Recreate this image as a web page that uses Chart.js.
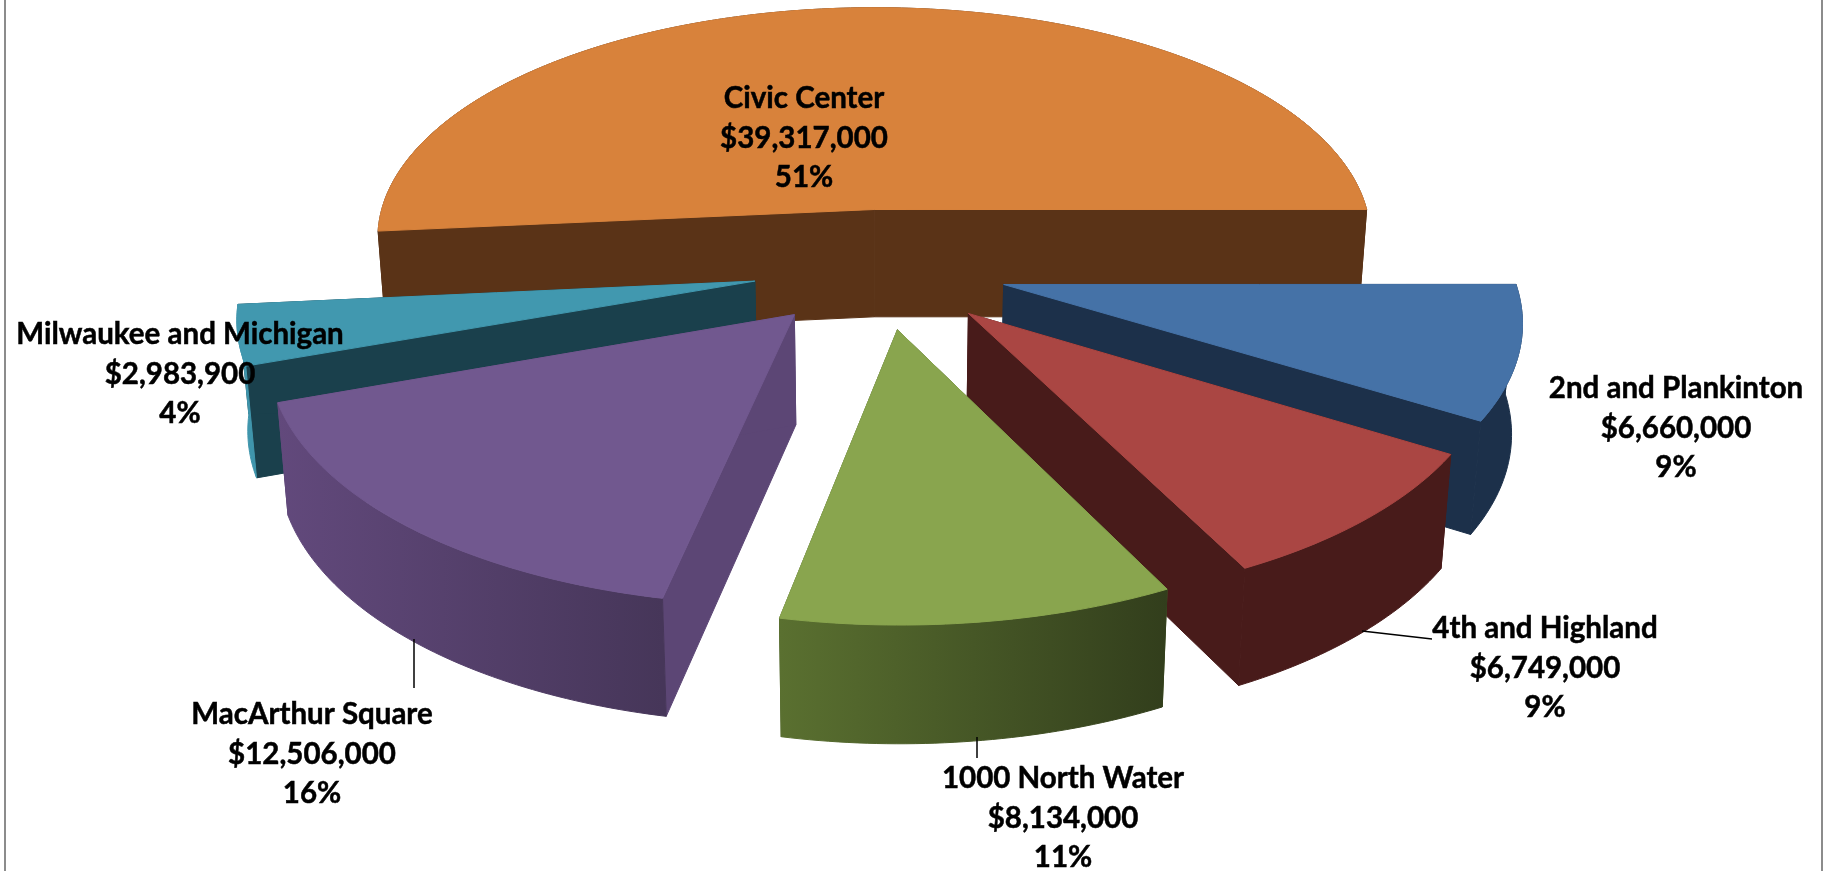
<!DOCTYPE html>
<html>
<head>
<meta charset="utf-8">
<title>Project values</title>
<script src="https://cdn.jsdelivr.net/npm/chart.js@4/dist/chart.umd.min.js"></script>
<style>
    html, body { margin: 0; padding: 0; background: #fff; }
    #wrap { position: relative; width: 1828px; height: 871px; overflow: hidden; }
</style>
</head>
<body>
<div id="wrap"><canvas id="pie" width="1828" height="871"></canvas></div>
<script>
const categories = ["Civic Center", "2nd and Plankinton", "4th and Highland", "1000 North Water", "MacArthur Square", "Milwaukee and Michigan"];
const amounts = [39317000, 6660000, 6749000, 8134000, 12506000, 2983900];
const percents = ["51%", "9%", "9%", "11%", "16%", "4%"];

const topColors = ["#D8823B", "#4572A7", "#AA4643", "#89A54E", "#71588F", "#4198AF"];
const cutColors = ["#5A3317", "#1C304A", "#481B1A", "#4A5E28", "#5C4675", "#1A404C"];
const wallLeft = ["#5A3317", "#1C304A", "#481B1A", "#5A7030", "#62497C", "#3F95AC"];
const wallRight = ["#5A3317", "#1C304A", "#481B1A", "#323E1C", "#463659", "#3F95AC"];

// painter's order, back of the pie first
const drawOrder = [0, 5, 1, 4, 2, 3];

const labelX = [804, 1676, 1545, 1063, 312, 180];
const labelY = [108, 398, 638, 788, 724, 344];
const leaders = [null, null, [1362, 631, 1432, 639], [977, 737, 977, 758], [414, 639, 414, 688], null];

// 3d view of the pie, fitted to the picture
const view = { cx: 880, cy: 268, rx: 508, ry: 241, depth: 109, perspective: 0.126, taper: 0.983 };

function project(wx, wy, isBottom)
{
    const s = 1 / (1 - view.perspective * wy);
    let x = wx * view.rx * s;
    let y = view.cy + wy * view.ry * s;
    if (isBottom)
    {
        x *= view.taper;
        y += view.depth * Math.sqrt(s);
    }
    return [view.cx + x, y];
}

function slicePoints(arc, isBottom)
{
    const {startAngle, endAngle, outerRadius} = arc;
    const o = arc.options.offset / outerRadius;
    const mid = (startAngle + endAngle) / 2;
    const ox = o * Math.cos(mid);
    const oy = o * Math.sin(mid);
    const steps = Math.max(4, Math.ceil((endAngle - startAngle) * 60));
    const rim = [];
    for (let i = 0; i <= steps; i++)
    {
        const a = startAngle + (endAngle - startAngle) * i / steps;
        rim.push(project(ox + Math.cos(a), oy + Math.sin(a), isBottom));
    }
    return {apex: project(ox, oy, isBottom), rim: rim};
}

function fillPath(ctx, points, fill)
{
    ctx.beginPath();
    points.forEach((p, i) => i === 0 ? ctx.moveTo(p[0], p[1]) : ctx.lineTo(p[0], p[1]));
    ctx.closePath();
    ctx.fillStyle = fill;
    ctx.fill();
    ctx.strokeStyle = fill;
    ctx.lineWidth = 1;
    ctx.stroke();
}

function drawSlice(ctx, arc, i)
{
    const top = slicePoints(arc, false);
    const bottom = slicePoints(arc, true);
    const last = top.rim.length - 1;

    // the two cut faces
    fillPath(ctx, [top.apex, top.rim[0], bottom.rim[0], bottom.apex], cutColors[i]);
    fillPath(ctx, [top.apex, top.rim[last], bottom.rim[last], bottom.apex], cutColors[i]);

    // the outer wall
    const xs = top.rim.map(p => p[0]);
    const gradient = ctx.createLinearGradient(Math.min(...xs), 0, Math.max(...xs), 0);
    gradient.addColorStop(0, wallLeft[i]);
    gradient.addColorStop(1, wallRight[i]);
    fillPath(ctx, top.rim.concat(bottom.rim.slice().reverse()), gradient);

    // the top face
    fillPath(ctx, [top.apex].concat(top.rim), topColors[i]);
}

function dollars(value)
{
    return "$" + value.toLocaleString("en-US");
}

const pie3d = {
    id: "pie3d",
    beforeDatasetsDraw(chart) {
        const ctx = chart.ctx;
        const arcs = chart.getDatasetMeta(0).data;
        drawOrder.forEach(i => drawSlice(ctx, arcs[i], i));
        return false;
    },
    afterDraw(chart) {
        const ctx = chart.ctx;
        ctx.save();
        // outer frame
        ctx.strokeStyle = "#8c8c8c";
        ctx.lineWidth = 2;
        ctx.beginPath();
        ctx.moveTo(5, 0); ctx.lineTo(5, 871);
        ctx.moveTo(1822, 0); ctx.lineTo(1822, 871);
        ctx.stroke();

        ctx.strokeStyle = "#000";
        ctx.lineWidth = 1.5;
        leaders.forEach(l => {
            if (!l) return;
            ctx.beginPath();
            ctx.moveTo(l[0], l[1]);
            ctx.lineTo(l[2], l[3]);
            ctx.stroke();
        });

        ctx.fillStyle = "#000";
        ctx.strokeStyle = "#000";
        ctx.lineWidth = 0.5;
        ctx.font = "bold 29.5px Lato";
        ctx.textAlign = "center";
        categories.forEach((name, i) => {
            [name, dollars(amounts[i]), percents[i]].forEach((line, n) => {
                const y = labelY[i] + [0, 40, 79][n];
                ctx.fillText(line, labelX[i], y);
                ctx.strokeText(line, labelX[i], y);
            });
        });
        ctx.restore();
    }
};

new Chart(document.getElementById("pie"), {
    type: "pie",
    data: {
        labels: categories,
        datasets: [{
            data: amounts,
            backgroundColor: topColors,
            offset: 97,
            borderWidth: 0
        }]
    },
    options: {
        responsive: false,
        animation: false,
        rotation: -95.4,
        events: [],
        plugins: { legend: { display: false }, tooltip: { enabled: false } }
    },
    plugins: [pie3d]
});
</script>
</body>
</html>
